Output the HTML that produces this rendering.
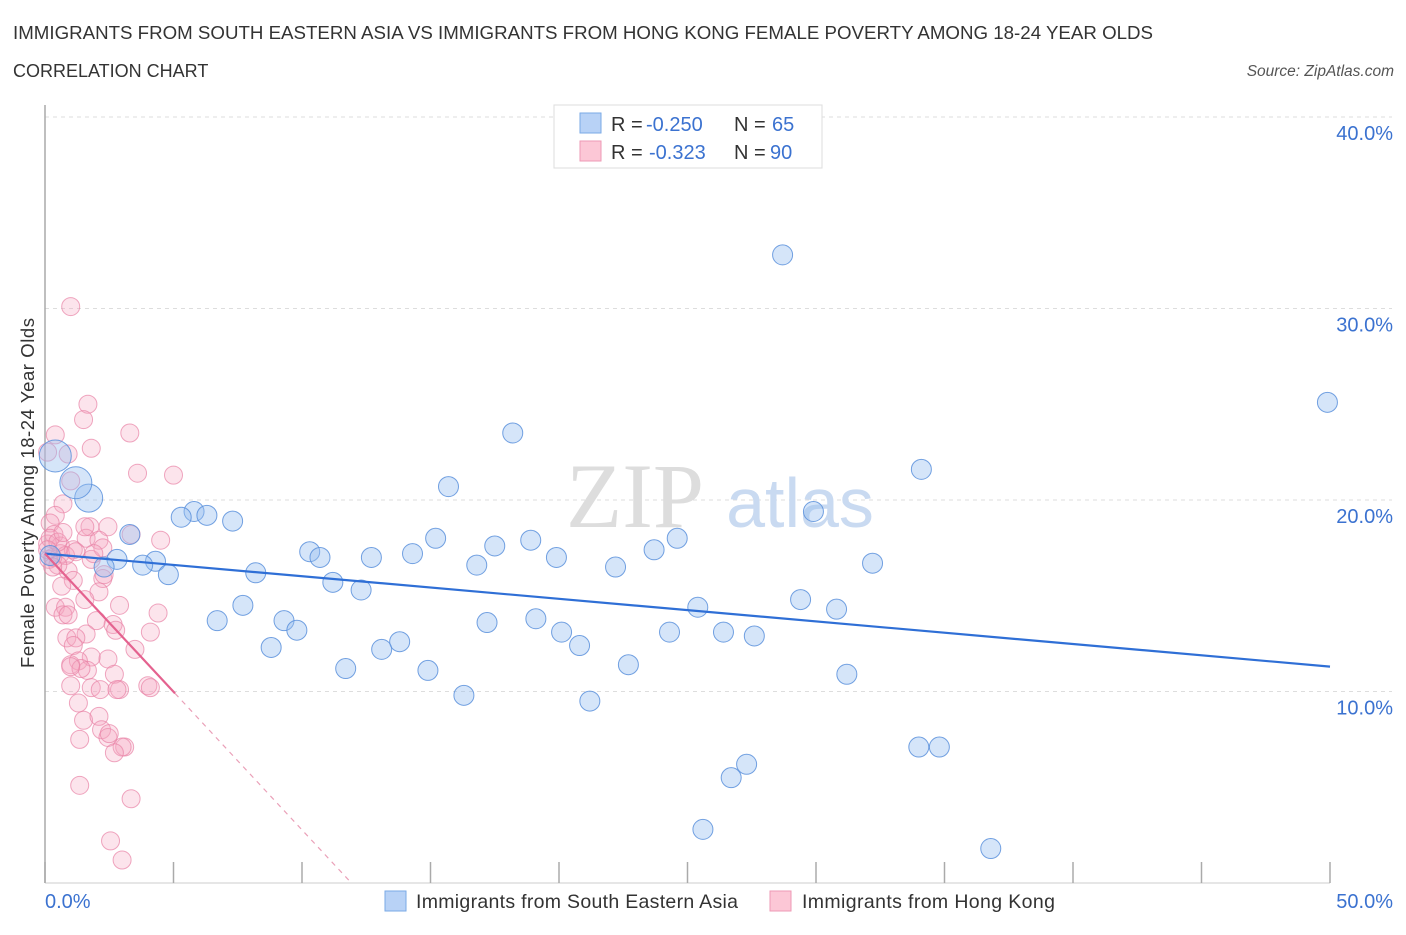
<!DOCTYPE html>
<html><head><meta charset="utf-8"><style>
body{margin:0;background:#fff;font-family:"Liberation Sans",sans-serif;}
svg text{font-family:"Liberation Sans",sans-serif;}
</style></head><body>
<svg id="chart" width="1406" height="930">
<text x="13" y="39" font-size="18.7" fill="#333" textLength="1140">IMMIGRANTS FROM SOUTH EASTERN ASIA VS IMMIGRANTS FROM HONG KONG FEMALE POVERTY AMONG 18-24 YEAR OLDS</text>
<text x="13" y="77" font-size="18" fill="#333">CORRELATION CHART</text>
<text x="1394" y="76" font-size="15.5" font-style="italic" fill="#555" text-anchor="end">Source: ZipAtlas.com</text>
<text x="34" y="668" font-size="18.5" fill="#333" transform="rotate(-90 34 668)" textLength="350">Female Poverty Among 18-24 Year Olds</text>
<g id="grid"></g>
<g>
<text x="635" y="527" font-size="92" fill="#ddd" text-anchor="middle" style="font-family:'Liberation Serif',serif">ZIP</text>
<text x="800" y="527" font-size="70" fill="#c9daf1" text-anchor="middle">atlas</text>
</g>
<g id="axes"></g>
<g id="pink"></g>
<g id="blue"></g>
<g id="lines"></g>
<g>
<rect x="554" y="105" width="268" height="63" fill="#fff" stroke="#ddd"/>
<rect x="580" y="113" width="21" height="20" fill="#b8d2f6" stroke="#7aaae6"/>
<rect x="580" y="141" width="21" height="20" fill="#fcc7d6" stroke="#ee9ab5"/>
<text x="611" y="131" font-size="20" fill="#333">R =</text>
<text x="646" y="131" font-size="20" fill="#3b72d0">-0.250</text>
<text x="734" y="131" font-size="20" fill="#333">N =</text>
<text x="772" y="131" font-size="20" fill="#3b72d0">65</text>
<text x="611" y="159" font-size="20" fill="#333">R =</text>
<text x="649" y="159" font-size="20" fill="#3b72d0">-0.323</text>
<text x="734" y="159" font-size="20" fill="#333">N =</text>
<text x="770" y="159" font-size="20" fill="#3b72d0">90</text>
</g>
<g>
<rect x="385" y="891" width="21" height="20" fill="#b8d2f6" stroke="#7aaae6"/>
<text x="416" y="908" font-size="19.5" fill="#333" textLength="322">Immigrants from South Eastern Asia</text>
<rect x="770" y="891" width="21" height="20" fill="#fcc7d6" stroke="#ee9ab5"/>
<text x="802" y="908" font-size="19.5" fill="#333" textLength="253">Immigrants from Hong Kong</text>
</g>
</svg>
<script>
const yTicks=[10,20,30,40];
const yTickLabels=["10.0%","20.0%","30.0%","40.0%"];
const xTickVals=[0,5,10,15,20,25,30,35,40,45,50];
const xEndLabels=["0.0%","50.0%"];
const blueX=[28.7,49.9,18.2,34.1,15.7,1.7,1.2,0.4,5.8,5.3,6.3,7.3,29.9,3.3,15.2,18.9,10.3,17.5,14.3,10.7,12.7,19.9,23.7,24.6,2.8,4.3,2.3,3.8,16.8,22.2,32.2,4.8,8.2,11.2,12.3,25.4,7.7,29.4,30.8,6.7,9.3,17.2,19.1,9.8,20.1,24.3,26.4,27.6,13.8,8.8,13.1,20.8,11.7,22.7,14.9,31.2,16.3,21.2,34.0,34.8,27.3,26.7,25.6,36.8,0.2];
const blueY=[32.8,25.1,23.5,21.6,20.7,20.1,20.9,22.3,19.4,19.1,19.2,18.9,19.4,18.2,18.0,17.9,17.3,17.6,17.2,17.0,17.0,17.0,17.4,18.0,16.9,16.8,16.5,16.6,16.6,16.5,16.7,16.1,16.2,15.7,15.3,14.4,14.5,14.8,14.3,13.7,13.7,13.6,13.8,13.2,13.1,13.1,13.1,12.9,12.6,12.3,12.2,12.4,11.2,11.4,11.1,10.9,9.8,9.5,7.1,7.1,6.2,5.5,2.8,1.8,17.1];
const blueR=[10,10,10,10,10,14,16,16,10,10,10,10,10,10,10,10,10,10,10,10,10,10,10,10,10,10,10,10,10,10,10,10,10,10,10,10,10,10,10,10,10,10,10,10,10,10,10,10,10,10,10,10,10,10,10,10,10,10,10,10,10,10,10,10,10];
const pinkX=[1.0,1.67,1.5,3.3,1.8,0.4,0.1,0.9,3.6,5.0,1.0,0.7,0.4,0.2,1.75,2.45,3.35,0.35,4.5,1.6,2.1,0.6,0.1,1.1,0.6,0.15,0.8,1.8,0.9,2.25,1.1,0.65,2.9,2.1,1.55,0.4,0.8,0.7,2.0,2.65,2.75,0.85,1.6,1.2,4.1,3.5,1.1,1.8,1.3,2.45,1.0,1.65,2.7,4.0,1.0,1.8,2.9,2.15,4.1,2.8,1.3,1.5,2.1,2.2,2.45,1.35,2.5,3.1,3.0,2.7,1.35,3.35,2.55,3.0,4.4,2.25,1.55,0.3,0.5,1.2,0.2,0.5,1.9,2.3,0.9,0.3,1.4,0.7,0.1,1.0];
const pinkY=[30.1,25.0,24.2,23.5,22.7,23.4,22.5,22.4,21.4,21.3,21.0,19.8,19.2,18.8,18.6,18.6,18.2,18.2,17.9,18.0,17.9,17.6,17.7,17.4,17.2,16.9,17.1,16.9,16.3,15.9,15.8,15.5,14.5,15.2,14.8,14.4,14.4,14.0,13.7,13.5,13.2,12.8,13.0,12.8,13.1,12.2,12.4,11.8,11.6,11.7,11.4,11.1,10.9,10.3,10.3,10.2,10.1,10.1,10.2,10.1,9.4,8.5,8.7,8.0,7.6,7.5,7.8,7.1,7.1,6.8,5.1,4.4,2.2,1.2,14.1,17.5,18.6,17.0,16.6,17.3,18.0,17.8,17.2,16.1,14.0,16.5,11.2,18.3,17.4,11.3];
const blueTrend=[17.2,11.3];
const pinkTrend=[17.2,9.9,5.06,0];
const X=v=>45+v*25.7, Y=v=>883-v*19.15;
const NS="http://www.w3.org/2000/svg";
function mk(t,a,p){const e=document.createElementNS(NS,t);for(const k in a)e.setAttribute(k,a[k]);p.appendChild(e);return e;}
const grid=document.getElementById('grid');
yTicks.forEach((v,i)=>{
 const l=mk('line',{x1:45,x2:1392,y1:Y(v),y2:Y(v),stroke:'#ddd','stroke-dasharray':'4,4'},grid);
 
 
 const t=mk('text',{x:1393,y:Y(v)+23,'font-size':20,fill:'#3b72d0','text-anchor':'end'},grid);
 t.textContent=yTickLabels[i];
 
 
});
const axes=document.getElementById('axes');
const ya=mk('line',{x1:45,x2:45,y1:105,y2:883,stroke:'#aaa','stroke-width':1.5},axes);


const xa=mk('line',{x1:45,x2:1330,y1:883,y2:883,stroke:'#ccc'},axes);


xTickVals.forEach(v=>{
 const t=mk('line',{x1:X(v),x2:X(v),y1:862,y2:883,stroke:'#aaa','stroke-width':1.5},axes);
 
 
});
const xl0=mk('text',{x:45,y:908,'font-size':20,fill:'#3b72d0'},axes);xl0.textContent=xEndLabels[0];


const xl1=mk('text',{x:1393,y:908,'font-size':20,fill:'#3b72d0','text-anchor':'end'},axes);xl1.textContent=xEndLabels[1];


const pg=document.getElementById('pink');
pinkX.forEach((x,i)=>{
 const c=mk('circle',{cx:X(x),cy:Y(pinkY[i]),r:9,fill:'rgba(245,165,192,0.3)',stroke:'rgba(232,130,165,0.7)','stroke-width':1},pg);
 
 
});
const bg=document.getElementById('blue');
blueX.forEach((x,i)=>{
 const c=mk('circle',{cx:X(x),cy:Y(blueY[i]),r:blueR[i]||10,fill:'rgba(150,190,240,0.4)',stroke:'rgba(90,145,220,0.85)','stroke-width':1},bg);
 
 
});
const lg=document.getElementById('lines');
const bl=mk('line',{x1:X(0),y1:Y(blueTrend[0]),x2:X(50),y2:Y(blueTrend[1]),stroke:'#2f6fd6','stroke-width':2.2},lg);


const pl=mk('line',{x1:X(0),y1:Y(pinkTrend[0]),x2:X(pinkTrend[2]),y2:Y(pinkTrend[1]),stroke:'#e4628f','stroke-width':2.2},lg);


const slope=(pinkTrend[1]-pinkTrend[0])/pinkTrend[2];
const xEnd=(pinkTrend[3]-pinkTrend[0])/slope;
const pd=mk('line',{x1:X(pinkTrend[2]),y1:Y(pinkTrend[1]),x2:X(xEnd),y2:Y(pinkTrend[3]),stroke:'#eaa0b8','stroke-width':1.2,'stroke-dasharray':'5,5'},lg);


</script>
</body></html>
